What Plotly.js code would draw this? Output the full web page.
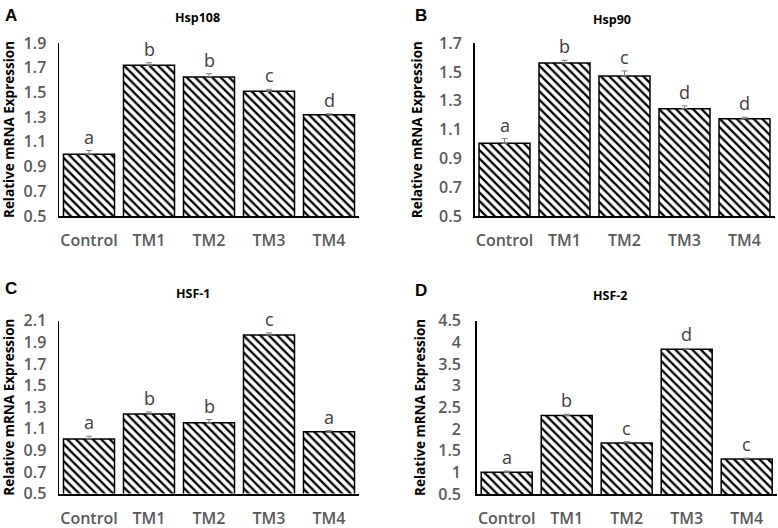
<!DOCTYPE html>
<html><head><meta charset="utf-8">
<script src="https://cdn.plot.ly/plotly-3.0.1.min.js"></script>
<style>html,body{margin:0;padding:0;background:#fff}#chart{width:778px;height:528px}</style>
</head><body><div id="chart"></div>
<script>
const categories = ['Control','TM1','TM2','TM3','TM4'];
const panelTitles = ['Hsp108','Hsp90','HSF-1','HSF-2'];
const panelLetters = ['A','B','C','D'];
const valuesA = [1.00, 1.72, 1.625, 1.51, 1.32];
const errorsA = [0.03, 0.02, 0.027, 0.015, 0.008];
const lettersA = ['a','b','b','c','d'];
const valuesB = [1.005, 1.563, 1.473, 1.246, 1.176];
const errorsB = [0.033, 0.019, 0.035, 0.019, 0.01];
const lettersB = ['a','b','c','d','d'];
const valuesC = [1.005, 1.235, 1.155, 1.967, 1.071];
const errorsC = [0.025, 0.019, 0.03, 0.02, 0.012];
const lettersC = ['a','b','b','c','a'];
const valuesD = [1.0, 2.31, 1.68, 3.84, 1.31];
const errorsD = [0.03, 0.03, 0.03, 0.02, 0.02];
const lettersD = ['a','b','c','d','c'];

const series = [
  {v: valuesA, e: errorsA, l: lettersA, range: [0.5, 1.9], dtick: 0.2},
  {v: valuesB, e: errorsB, l: lettersB, range: [0.5, 1.7], dtick: 0.2},
  {v: valuesC, e: errorsC, l: lettersC, range: [0.5, 2.1], dtick: 0.2},
  {v: valuesD, e: errorsD, l: lettersD, range: [0.5, 4.5], dtick: 0.5}
];
const W = 778, H = 528;
const boxes = [
  {x0: 59, x1: 359, y0: 43, y1: 216, st: 11, tl: 8},
  {x0: 474.5, x1: 774.5, y0: 43.3, y1: 216, st: 13, tl: 8},
  {x0: 59, x1: 359, y0: 320.7, y1: 493.5, st: 11, tl: 8},
  {x0: 476.7, x1: 776.7, y0: 320.7, y1: 494, st: 9, tl: 11}
];
const titlePos = [[197, 18], [612, 20], [193, 293], [610, 295]];
const letterPos = [[3, 4], [413, 4], [3, 277], [413, 279]];

const tickFont = {family: 'Open Sans, sans-serif', size: 16, color: '#595959', weight: 600};
const data = [];
const layout = {
  width: W, height: H, margin: {l: 0, r: 0, t: 0, b: 0},
  paper_bgcolor: '#fff', plot_bgcolor: '#fff', showlegend: false,
  bargap: 0.15, annotations: []
};
series.forEach((s, i) => {
  const n = i === 0 ? '' : String(i + 1);
  const b = boxes[i];
  data.push({
    type: 'bar', x: categories, y: s.v, xaxis: 'x' + n, yaxis: 'y' + n,
    marker: {color: '#fff', line: {color: '#000', width: 1.5},
      pattern: {shape: '\\', size: 6, solidity: 0.38, fgcolor: '#000', bgcolor: '#fff', fillmode: 'replace'}},
    error_y: {type: 'data', array: s.e, arrayminus: s.e.map(() => 0), symmetric: false,
      color: '#7f7f7f', thickness: 1, width: 3},
    hoverinfo: 'none'
  });
  layout['xaxis' + n] = {
    domain: [b.x0 / W, b.x1 / W], anchor: 'y' + n, range: [-0.5, 4.5],
    showline: true, linecolor: '#000', linewidth: 2, showgrid: false, zeroline: false,
    ticks: '', tickfont: tickFont, ticklabelstandoff: 9, fixedrange: true
  };
  layout['yaxis' + n] = {
    domain: [1 - b.y1 / H, 1 - b.y0 / H], anchor: 'x' + n, range: s.range,
    tick0: 0.5, dtick: s.dtick, showline: true, linecolor: '#000', linewidth: 1.5,
    showgrid: false, zeroline: false, ticks: '', tickfont: tickFont, ticklabelstandoff: b.tl,
    automargin: false, fixedrange: true,
    title: {text: 'Relative mRNA Expression', standoff: b.st,
      font: {family: 'Open Sans, sans-serif', size: 13.5, color: '#000', weight: 'bold'}}
  };
  s.l.forEach((t, k) => {
    layout.annotations.push({
      xref: 'x' + n, yref: 'y' + n, x: categories[k], y: s.v[k] + s.e[k],
      text: t, showarrow: false, yanchor: 'bottom', xanchor: 'center',
      font: {family: 'Open Sans, sans-serif', size: 18, color: '#404040'}
    });
  });
  layout.annotations.push({
    xref: 'paper', yref: 'paper', x: titlePos[i][0] / W, y: 1 - titlePos[i][1] / H,
    text: '<b>' + panelTitles[i] + '</b>', showarrow: false, xanchor: 'center', yanchor: 'middle',
    font: {family: 'Open Sans, sans-serif', size: 12.5, color: '#000'}
  });
  layout.annotations.push({
    xref: 'paper', yref: 'paper', x: letterPos[i][0] / W, y: 1 - letterPos[i][1] / H,
    text: '<b>' + panelLetters[i] + '</b>', showarrow: false, xanchor: 'left', yanchor: 'top',
    font: {family: 'Liberation Sans, Arial, sans-serif', size: 17, color: '#000'}
  });
});
Plotly.newPlot('chart', data, layout, {staticPlot: true});
</script></body></html>
